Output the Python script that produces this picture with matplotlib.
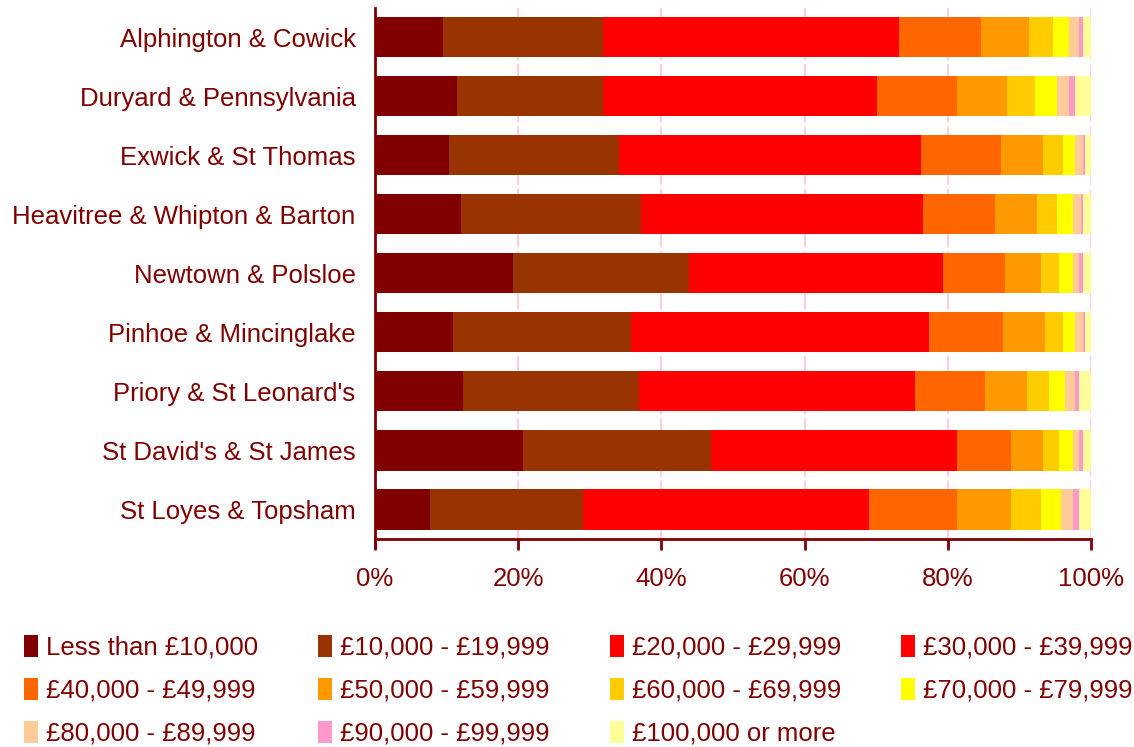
import numpy as np
import matplotlib
matplotlib.use('Agg')
import matplotlib.pyplot as plt
from matplotlib.ticker import FuncFormatter

# Wards, top to bottom
wards = ['Alphington & Cowick', 'Duryard & Pennsylvania', 'Exwick & St Thomas',
         'Heavitree & Whipton & Barton', 'Newtown & Polsloe', 'Pinhoe & Mincinglake',
         "Priory & St Leonard's", "St David's & St James", 'St Loyes & Topsham']

bands = ['Less than £10,000', '£10,000 - £19,999', '£20,000 - £29,999', '£30,000 - £39,999',
         '£40,000 - £49,999', '£50,000 - £59,999', '£60,000 - £69,999', '£70,000 - £79,999',
         '£80,000 - £89,999', '£90,000 - £99,999', '£100,000 or more']

# share of households (%) per income band, one list per band, in ward order
less10k = [9.5, 11.5, 10.3, 12.0, 19.3, 10.9, 12.3, 20.7, 7.7]
k10_20 = [22.3, 20.3, 23.8, 25.2, 24.6, 24.9, 24.6, 26.2, 21.4]
k20_30 = [21.0, 19.5, 21.5, 20.0, 18.5, 21.0, 19.8, 18.0, 20.0]
k30_40 = [20.4, 18.8, 20.7, 19.3, 16.9, 20.6, 18.7, 16.4, 19.9]
k40_50 = [11.4, 11.2, 11.1, 10.1, 8.7, 10.3, 9.8, 7.5, 12.3]
k50_60 = [6.7, 7.0, 5.9, 5.9, 5.0, 5.9, 5.9, 4.5, 7.5]
k60_70 = [3.4, 3.9, 2.8, 2.8, 2.5, 2.5, 3.0, 2.2, 4.2]
k70_80 = [2.2, 3.1, 1.7, 2.2, 2.0, 1.7, 2.3, 2.0, 2.8]
k80_90 = [1.4, 1.6, 1.1, 1.1, 0.8, 1.1, 1.4, 0.8, 1.7]
k90_100 = [0.6, 0.9, 0.3, 0.3, 0.6, 0.3, 0.5, 0.6, 0.8]
k100 = [1.1, 2.2, 0.8, 1.1, 1.1, 0.8, 1.7, 1.1, 1.7]

colours = ['#800000', '#993300', '#FF0000', '#FF0000', '#FF6600', '#FF9900',
           '#FFCC00', '#FFFF00', '#FFCC99', '#FF99CC', '#FFFF99']

textCol = '#800000'
plt.rcParams['font.family'] = ['Liberation Sans', 'DejaVu Sans']
plt.rcParams['font.size'] = 18.5

series = [less10k, k10_20, k20_30, k30_40, k40_50, k50_60, k60_70, k70_80, k80_90, k90_100, k100]
data = np.array(series, dtype=float)
data = data / data.sum(axis=0) * 100

fig = plt.figure(figsize=(11.34, 7.47), dpi=100)
ax = fig.add_axes([0.3307, 0.2785, 0.9621 - 0.3307, 0.9895 - 0.2785])

y = np.arange(len(wards))
left = np.zeros(len(wards))
handles = []
for ii in range(len(bands)):
    h = ax.barh(y, data[ii], left=left, height=0.68, color=colours[ii], label=bands[ii], zorder=3)
    handles.append(h)
    left += data[ii]

ax.set_ylim(len(wards) - 0.5, -0.5)
ax.set_xlim(0, 100)
ax.set_yticks(y)
ax.set_yticklabels(wards, color=textCol)
ax.tick_params(axis='y', length=0, pad=14)
ax.set_xticks(np.arange(0, 101, 20))
ax.xaxis.set_major_formatter(FuncFormatter(lambda v, p: '%d%%' % v))
ax.tick_params(axis='x', colors=textCol, length=8, width=2, pad=12, labelcolor=textCol)
ax.xaxis.grid(True, color='#FFCCE5', linestyle=(0, (8, 2)), linewidth=1.5, zorder=0)

for s in ['top', 'right']:
    ax.spines[s].set_visible(False)
for s in ['left', 'bottom']:
    ax.spines[s].set_color(textCol)
    ax.spines[s].set_linewidth(2)
ax.spines['left'].set_bounds(len(wards) - 0.5 + 0.14, -0.5)

# legend filled row by row
order = [0, 4, 8, 1, 5, 9, 2, 6, 10, 3, 7]
leg = fig.legend([handles[i] for i in order], [bands[i] for i in order],
                 ncol=4, loc='lower left', bbox_to_anchor=(0.0005, -0.029),
                 frameon=False, handlelength=0.55, handleheight=0.95, handletextpad=0.3,
                 columnspacing=2.35, labelspacing=0.7)
for t in leg.get_texts():
    t.set_color(textCol)

fig.savefig('out.png', dpi=100)
